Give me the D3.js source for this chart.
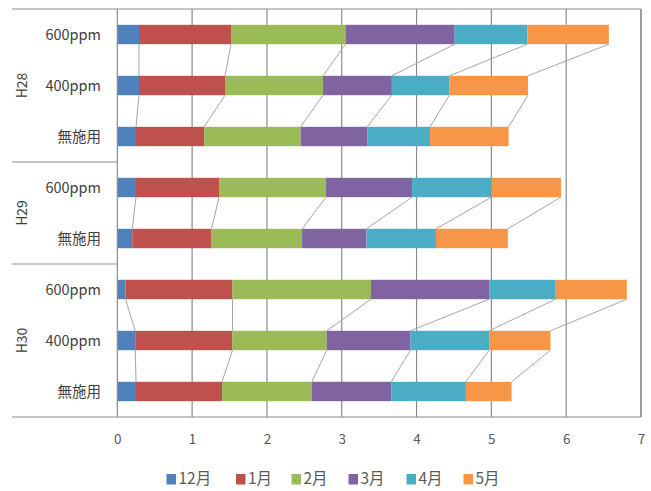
<!DOCTYPE html>
<html><head><meta charset="utf-8">
<script src="https://cdn.jsdelivr.net/npm/d3@7"></script>
<style>body{margin:0;background:#fff;} svg{display:block;}</style>
</head><body>
<svg id="chart" width="651" height="491"></svg>
<script>
const groups = ["H28", "H29", "H30"];
const rowGroups = ["H28", "H28", "H28", "H29", "H29", "H30", "H30", "H30"];
const rowLabels = ["600ppm", "400ppm", "無施用", "600ppm", "無施用", "600ppm", "400ppm", "無施用"];
const months = ["12月", "1月", "2月", "3月", "4月", "5月"];
const m12 = [0.29, 0.29, 0.25, 0.25, 0.20, 0.11, 0.24, 0.25];
const m1  = [1.23, 1.15, 0.91, 1.11, 1.06, 1.43, 1.30, 1.15];
const m2  = [1.53, 1.31, 1.29, 1.43, 1.21, 1.85, 1.26, 1.20];
const m3  = [1.46, 0.92, 0.89, 1.15, 0.86, 1.58, 1.12, 1.06];
const m4  = [0.97, 0.77, 0.84, 1.06, 0.93, 0.89, 1.05, 1.00];
const m5  = [1.09, 1.05, 1.05, 0.93, 0.96, 0.95, 0.82, 0.61];
const tickValues = [0, 1, 2, 3, 4, 5, 6, 7];
const colors = ["#4F81BD", "#C0504D", "#9BBB59", "#8064A2", "#4BACC6", "#F79646"];

const seriesVals = [m12, m1, m2, m3, m4, m5];
const table = rowLabels.map((lab, i) => {
  const o = {idx: i};
  months.forEach((m, k) => o[m] = seriesVals[k][i]);
  return o;
});
const stack = d3.stack().keys(months)(table);

const svg = d3.select("#chart");
const font = "'Noto Sans CJK JP', 'Noto Sans', sans-serif";
const L = 117.3, R = 641, T = 9, B = 417, FAR = 12;

const x = d3.scaleLinear().domain([0, 7]).range([L, R]);
const y = d3.scaleBand().domain(d3.range(rowLabels.length)).range([T, B]).paddingInner(0.62).paddingOuter(0.31);
const bw = y.bandwidth();

// vertical gridlines
svg.append("g").selectAll("line").data(tickValues.slice(1)).join("line")
  .attr("x1", d => x(d)).attr("x2", d => x(d)).attr("y1", T).attr("y2", B)
  .attr("stroke", "#8c8c8c").attr("stroke-width", 1.2);

// series lines within groups
const lineG = svg.append("g");
stack.forEach((s, k) => {
  for (let i = 0; i < rowLabels.length - 1; i++) {
    if (rowGroups[i] !== rowGroups[i + 1]) continue;
    lineG.append("line")
      .attr("x1", x(s[i][1])).attr("y1", y(i) + bw)
      .attr("x2", x(s[i + 1][1])).attr("y2", y(i + 1))
      .attr("stroke", "#a6a6a6").attr("stroke-width", 1);
  }
});

// bars
svg.append("g").selectAll("g").data(stack).join("g")
  .attr("fill", (d, k) => colors[k])
  .selectAll("rect").data(d => d).join("rect")
  .attr("x", d => x(d[0])).attr("width", d => x(d[1]) - x(d[0]))
  .attr("y", d => y(d.data.idx)).attr("height", bw);

// frame
const frame = svg.append("g").attr("stroke", "#8c8c8c").attr("stroke-width", 1.2);
frame.append("line").attr("x1", FAR).attr("x2", R).attr("y1", T).attr("y2", T);
frame.append("line").attr("x1", FAR).attr("x2", R).attr("y1", B).attr("y2", B);
frame.append("line").attr("x1", L).attr("x2", L).attr("y1", T).attr("y2", B);
frame.append("line").attr("x1", R).attr("x2", R).attr("y1", T).attr("y2", B);
for (let i = 0; i < rowLabels.length - 1; i++) {
  if (rowGroups[i] !== rowGroups[i + 1]) {
    const yy = (y(i) + bw + y(i + 1)) / 2;
    frame.append("line").attr("x1", FAR).attr("x2", L).attr("y1", yy).attr("y2", yy);
  }
}

// x axis labels
const xAxis = svg.append("g").attr("transform", `translate(0,${B})`)
  .call(d3.axisBottom(x).tickValues(tickValues).tickSize(0).tickPadding(17).tickFormat(d3.format("d")));
xAxis.select(".domain").remove();
xAxis.selectAll("text").attr("font-family", font).attr("font-size", 13.5).attr("fill", "#595959");

// row labels
svg.append("g").selectAll("text").data(rowLabels).join("text")
  .attr("x", 101).attr("y", (d, i) => y(i) + bw / 2).attr("dy", "0.35em")
  .attr("text-anchor", "end").attr("font-family", font).attr("font-size", 14.5).attr("fill", "#404040")
  .text(d => d);

// group labels
svg.append("g").selectAll("text").data(groups).join("text")
  .attr("transform", g => {
    const idxs = d3.range(rowLabels.length).filter(i => rowGroups[i] === g);
    const cy = (y(idxs[0]) + y(idxs[idxs.length - 1]) + bw) / 2;
    return `translate(22,${cy}) rotate(-90)`;
  })
  .attr("dy", "0.35em").attr("text-anchor", "middle")
  .attr("font-family", font).attr("font-size", 14).attr("fill", "#404040")
  .text(d => d);

// legend
const legX = [166.5, 236, 291.5, 348.5, 406.5, 463.5];
const legY = 479;
const leg = svg.append("g").selectAll("g").data(months).join("g")
  .attr("transform", (d, k) => `translate(${legX[k]},${legY})`);
leg.append("rect").attr("x", 0).attr("y", -5).attr("width", 9.5).attr("height", 10.5).attr("fill", (d, k) => colors[k]);
leg.append("text").attr("x", 12).attr("dy", "0.35em")
  .attr("font-family", font).attr("font-size", 15.5).attr("fill", "#595959")
  .text(d => d);
</script>
</body></html>
